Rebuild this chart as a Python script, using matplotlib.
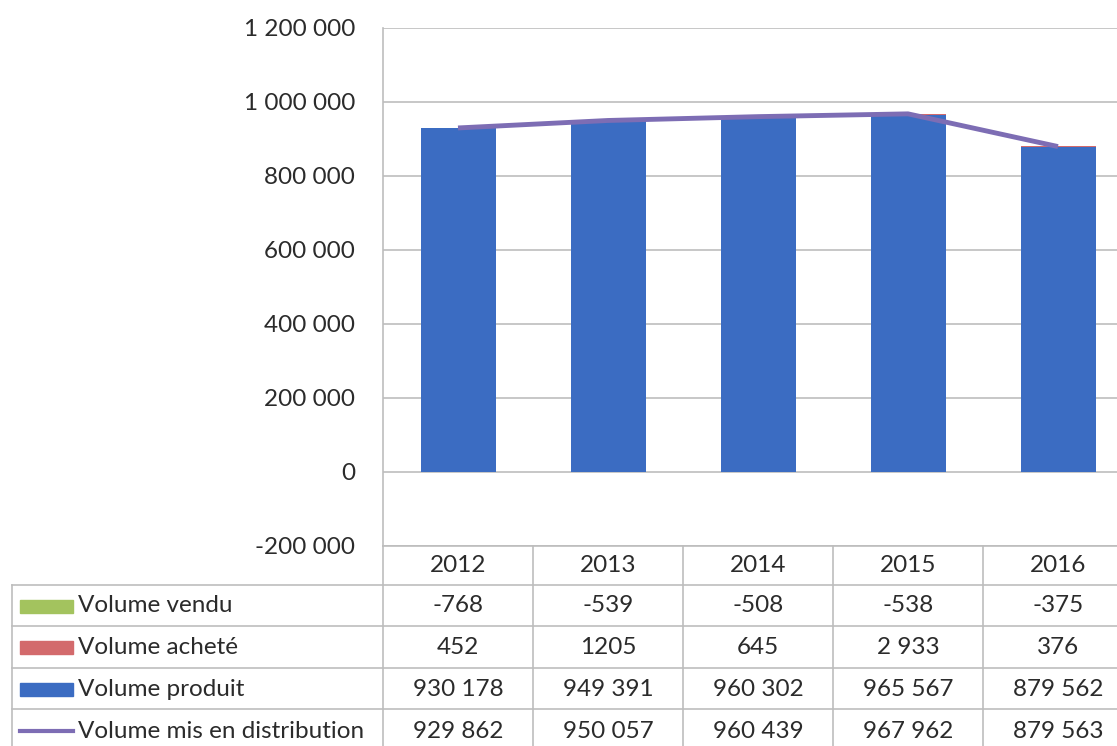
import matplotlib.pyplot as plt
from matplotlib.transforms import blended_transform_factory
from matplotlib.lines import Line2D
from matplotlib.patches import Rectangle

years = ['2012', '2013', '2014', '2015', '2016']
vendu = [-768, -539, -508, -538, -375]
achete = [452, 1205, 645, 2933, 376]
produit = [930178, 949391, 960302, 965567, 879562]
distribution = [929862, 950057, 960439, 967962, 879563]

series_names = ['Volume vendu', 'Volume acheté', 'Volume produit',
                'Volume mis en distribution']
series_values = [vendu, achete, produit, distribution]
colors = ['#a3c35e', '#d36a6c', '#3b6cc2', '#7d6db4']
# cells the sheet shows without a thousands separator
plain_cells = {(1, 1)}

plt.rcParams['font.family'] = ['Lato', 'DejaVu Sans']
text_color = '#2b2b2b'
grid_color = '#bdbdbd'
fs = 17.5

W, H = 1117, 746
fig = plt.figure(figsize=(W / 100, H / 100), dpi=100)
ax = fig.add_axes([383 / W, 1 - 546 / H, 750 / W, 518 / H])

x = list(range(len(years)))
ax.bar(x, produit, width=0.5, color=colors[2], zorder=2)
ax.bar(x, achete, width=0.5, bottom=produit, color=colors[1], zorder=2,
       linewidth=0)
ax.bar(x, vendu, width=0.5, color=colors[0], zorder=2, linewidth=0)
ax.plot(x, distribution, color=colors[3], lw=3.5, zorder=3,
        solid_capstyle='butt')

ax.set_xlim(-0.5, len(years) - 0.5)
ax.set_ylim(-200000, 1200000)
yt = list(range(-200000, 1200001, 200000))
ax.set_yticks(yt)
ax.set_yticklabels([f"{v:,}".replace(",", " ") for v in yt],
                   fontsize=fs, color=text_color)
ax.tick_params(axis='y', length=0, pad=20)
ax.set_xticks([])
ax.grid(axis='y', color=grid_color, lw=1.2, zorder=0)
for s in ['top', 'right', 'bottom']:
    ax.spines[s].set_visible(False)
ax.spines['left'].set_color(grid_color)
ax.spines['left'].set_linewidth(1.2)


def fmt(v, row, col):
    if (row, col) in plain_cells:
        return str(v)
    return f"{v:,}".replace(",", " ")


# data table below the plot
tr = blended_transform_factory(ax.transData, fig.transFigure)
fy = lambda py: 1 - py / H
top, bottom = 546, 760
row_lines = [585, 626, 668, 709]
row_centers = [606, 647, 689, 731]

for i in range(len(years) + 1):
    fig.add_artist(Line2D([i - 0.5, i - 0.5], [fy(top), fy(bottom)],
                          transform=tr, color=grid_color, lw=1.2))
fig.add_artist(Line2D([-0.5, len(years) - 0.5], [fy(top), fy(top)],
                      transform=tr, color=grid_color, lw=1.2))
for ry in row_lines:
    fig.add_artist(Line2D([12 / W, 1.02], [fy(ry), fy(ry)],
                          transform=fig.transFigure, color=grid_color, lw=1.2))
fig.add_artist(Line2D([12 / W, 12 / W], [fy(585), fy(bottom)],
                      transform=fig.transFigure, color=grid_color, lw=1.2))

for i, yr in enumerate(years):
    fig.text(i, fy(565), yr, transform=tr, ha='center', va='center',
             fontsize=fs, color=text_color)

for r, (name, vals) in enumerate(zip(series_names, series_values)):
    cy = fy(row_centers[r])
    if r < 3:
        fig.add_artist(Rectangle((20 / W, cy - 6.5 / H), 53 / W, 13 / H,
                                 transform=fig.transFigure, color=colors[r]))
    else:
        fig.add_artist(Line2D([20 / W, 73 / W], [cy, cy],
                              transform=fig.transFigure, color=colors[r],
                              lw=3))
    fig.text(78 / W, cy, name, ha='left', va='center', fontsize=fs,
             color=text_color)
    for i, v in enumerate(vals):
        fig.text(i, cy, fmt(v, r, i), transform=tr, ha='center',
                 va='center', fontsize=fs, color=text_color)

fig.savefig('out.png', dpi=100)
